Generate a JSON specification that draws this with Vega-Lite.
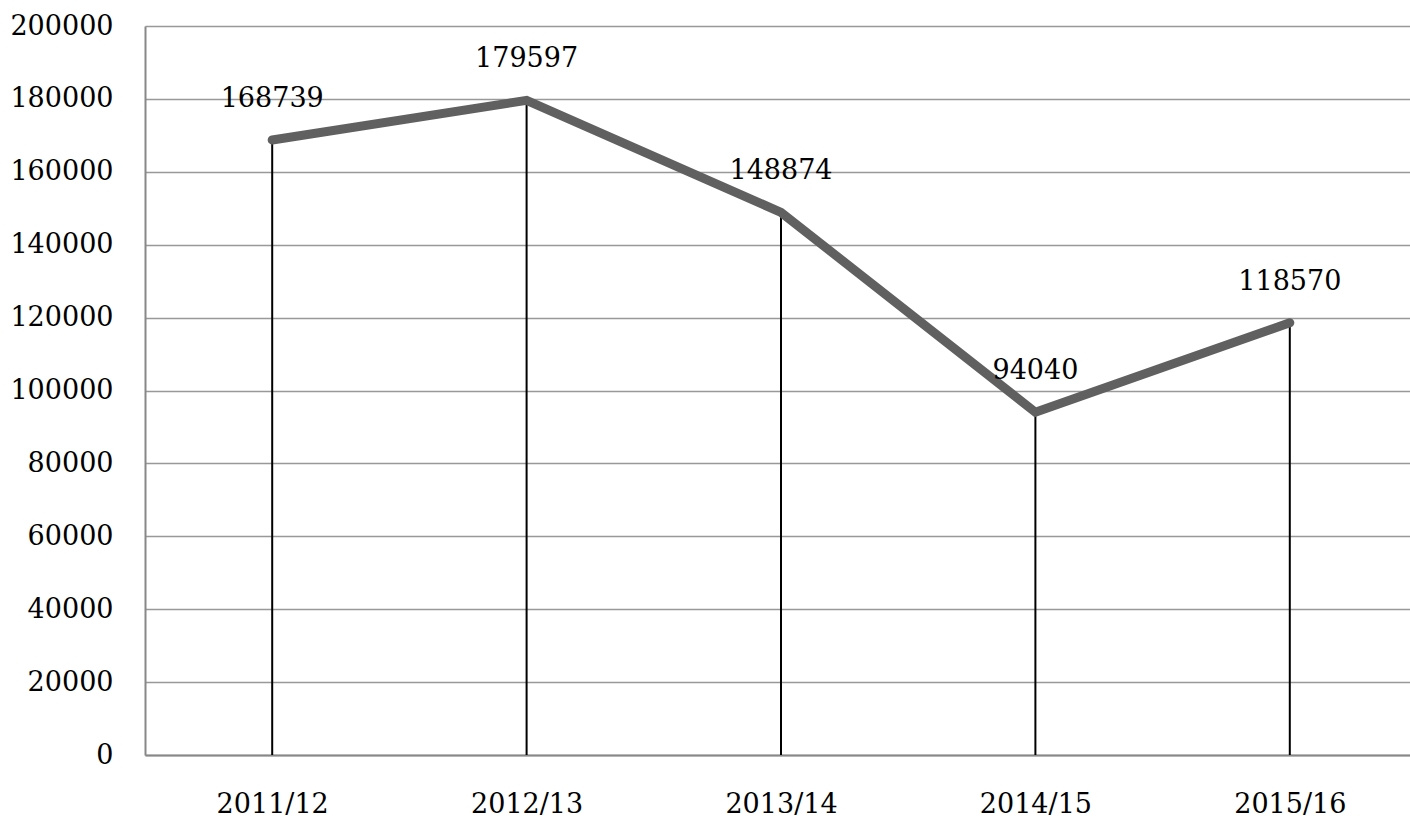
{
  "$schema": "https://vega.github.io/schema/vega-lite/v6.json",
  "autosize": "none",
  "width": 1272,
  "height": 729,
  "padding": {"left": 145, "top": 26, "right": 0, "bottom": 66},
  "background": "white",
  "config": {
    "view": {"stroke": null},
    "font": "DejaVu Serif"
  },
  "data": {
    "values": [
      {"year": "2011/12", "value": 168739},
      {"year": "2012/13", "value": 179597},
      {"year": "2013/14", "value": 148874},
      {"year": "2014/15", "value": 94040},
      {"year": "2015/16", "value": 118570}
    ]
  },
  "encoding": {
    "x": {
      "field": "year",
      "type": "nominal",
      "sort": null,
      "scale": {"type": "point", "padding": 0.5},
      "axis": {
        "title": null,
        "labelAngle": 0,
        "labelFont": "DejaVu Serif",
        "labelFontSize": 27,
        "labelColor": "#000000",
        "labelPadding": 36,
        "ticks": false,
        "grid": false,
        "domainColor": "#888888",
        "domainWidth": 2
      }
    },
    "y": {
      "field": "value",
      "type": "quantitative",
      "scale": {"domain": [0, 200000], "nice": false},
      "axis": {
        "title": null,
        "values": [0, 20000, 40000, 60000, 80000, 100000, 120000, 140000, 160000, 180000, 200000],
        "format": "d",
        "labelFont": "DejaVu Serif",
        "labelFontSize": 27,
        "labelColor": "#000000",
        "labelPadding": 32,
        "ticks": false,
        "grid": true,
        "gridColor": "#999999",
        "gridWidth": 1.5,
        "domainColor": "#888888",
        "domainWidth": 2
      }
    }
  },
  "layer": [
    {
      "mark": {"type": "rule", "color": "#000000", "strokeWidth": 2},
      "encoding": {"y2": {"datum": 0}}
    },
    {
      "mark": {"type": "line", "color": "#606060", "strokeWidth": 9, "strokeCap": "round", "strokeJoin": "miter"},
      "encoding": {}
    },
    {
      "mark": {"type": "text", "font": "DejaVu Serif", "fontSize": 27, "color": "#000000", "baseline": "alphabetic", "align": "center", "dy": -33},
      "encoding": {"text": {"field": "value", "type": "quantitative", "format": "d"}}
    }
  ]
}
